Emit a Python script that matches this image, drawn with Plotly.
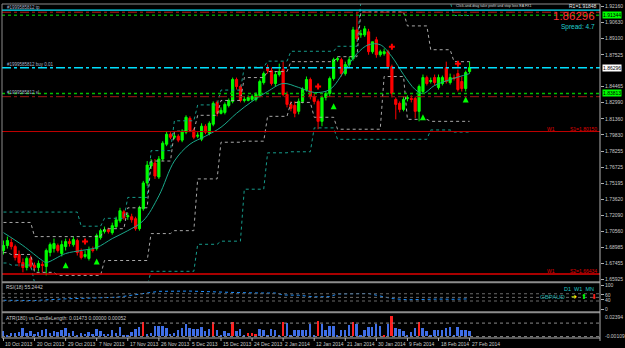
import plotly.graph_objects as go

# ---------------- data ----------------
date_labels = ["10 Oct 2013", "20 Oct 2013", "29 Oct 2013", "7 Nov 2013", "17 Nov 2013",
               "26 Nov 2013", "5 Dec 2013", "15 Dec 2013", "24 Dec 2013", "2 Jan 2014",
               "12 Jan 2014", "21 Jan 2014", "30 Jan 2014", "9 Feb 2014", "18 Feb 2014",
               "27 Feb 2014"]
date_label_bars = [0, 8, 16, 24, 32, 40, 48, 56, 64, 72, 80, 88, 96, 104, 112, 120]

opens = [1.6870,1.6918,1.6947,1.6908,1.6832,1.6755,1.6707,1.6794,1.6727,1.6707,
1.6736,1.6717,1.6851,1.6889,1.6918,1.6841,1.6908,1.6956,1.6927,1.6966,
1.6860,1.6813,1.6794,1.6880,1.6889,1.6994,1.7052,1.7071,1.7042,1.7100,
1.7157,1.7243,1.7195,1.7195,1.7176,1.7080,1.7272,1.7520,1.7683,1.7712,
1.7578,1.7750,1.7893,1.7989,1.7960,1.7970,1.7932,1.8008,1.8142,1.8027,
1.7970,1.7941,1.8066,1.7999,1.8085,1.8295,1.8190,1.8199,1.8266,1.8305,
1.8515,1.8448,1.8314,1.8314,1.8324,1.8324,1.8362,1.8486,1.8630,1.8601,
1.8477,1.8563,1.8611,1.8372,1.8276,1.8266,1.8209,1.8305,1.8419,1.8515,
1.8352,1.8305,1.8113,1.8343,1.8381,1.8525,1.8706,1.8706,1.8572,1.8659,
1.8716,1.8993,1.8945,1.8945,1.8974,1.8783,1.8898,1.8754,1.8764,1.8783,
1.8639,1.8324,1.8286,1.8228,1.8333,1.8333,1.8333,1.8209,1.8400,1.8534,
1.8496,1.8534,1.8439,1.8477,1.8630,1.8486,1.8534,1.8572,1.8496,1.8429,
1.8592]
highs = [1.6966,1.7004,1.6985,1.6927,1.6870,1.6794,1.6813,1.6822,1.6755,1.6774,
1.6765,1.6889,1.6947,1.6985,1.6937,1.6966,1.6985,1.6985,1.7004,1.6985,
1.6889,1.6870,1.6908,1.6908,1.7033,1.7080,1.7100,1.7090,1.7138,1.7195,
1.7281,1.7262,1.7233,1.7224,1.7195,1.7300,1.7540,1.7731,1.7750,1.7750,
1.7779,1.7922,1.8018,1.8008,1.7999,1.7989,1.8037,1.8171,1.8161,1.8046,
1.8008,1.8094,1.8085,1.8113,1.8305,1.8314,1.8247,1.8295,1.8333,1.8534,
1.8534,1.8467,1.8352,1.8362,1.8372,1.8391,1.8515,1.8592,1.8659,1.8630,
1.8592,1.8668,1.8687,1.8400,1.8305,1.8305,1.8333,1.8439,1.8544,1.8534,
1.8381,1.8324,1.8362,1.8400,1.8544,1.8725,1.8735,1.8725,1.8687,1.8735,
1.9022,1.9165,1.8993,1.9031,1.9003,1.8878,1.8926,1.8802,1.8812,1.8802,
1.8659,1.8343,1.8305,1.8352,1.8362,1.8362,1.8352,1.8467,1.8563,1.8553,
1.8534,1.8563,1.8563,1.8553,1.8687,1.8572,1.8563,1.8611,1.8544,1.8601,
1.8687]
lows = [1.6832,1.6889,1.6880,1.6774,1.6717,1.6660,1.6679,1.6698,1.6679,1.6669,
1.6660,1.6631,1.6813,1.6851,1.6851,1.6813,1.6870,1.6908,1.6908,1.6822,
1.6784,1.6794,1.6774,1.6851,1.6870,1.6975,1.7033,1.7033,1.7023,1.7080,
1.7138,1.7166,1.7166,1.7138,1.7061,1.7061,1.7253,1.7492,1.7654,1.7559,
1.7559,1.7731,1.7874,1.7941,1.7941,1.7912,1.7912,1.7989,1.8008,1.7941,
1.7951,1.7922,1.7989,1.7979,1.8066,1.8161,1.8180,1.8180,1.8247,1.8286,
1.8419,1.8295,1.8295,1.8305,1.8305,1.8305,1.8343,1.8467,1.8572,1.8458,
1.8448,1.8544,1.8352,1.8247,1.8209,1.8152,1.8180,1.8286,1.8400,1.8324,
1.8276,1.8037,1.8066,1.8314,1.8352,1.8505,1.8687,1.8544,1.8553,1.8630,
1.8697,1.8878,1.8917,1.8926,1.8754,1.8764,1.8725,1.8735,1.8745,1.8611,
1.8343,1.8132,1.8199,1.8209,1.8305,1.8295,1.8142,1.8113,1.8381,1.8458,
1.8477,1.8458,1.8419,1.8458,1.8477,1.8467,1.8505,1.8400,1.8400,1.8400,
1.8572]
closes = [1.6918,1.6966,1.6908,1.6803,1.6755,1.6707,1.6794,1.6717,1.6707,1.6746,
1.6727,1.6870,1.6927,1.6937,1.6870,1.6927,1.6956,1.6937,1.6975,1.6851,
1.6803,1.6832,1.6880,1.6870,1.7014,1.7061,1.7071,1.7052,1.7109,1.7166,
1.7253,1.7186,1.7205,1.7166,1.7080,1.7281,1.7520,1.7692,1.7721,1.7587,
1.7750,1.7903,1.7989,1.7960,1.7970,1.7932,1.8018,1.8152,1.8027,1.7960,
1.7979,1.8066,1.8008,1.8094,1.8286,1.8190,1.8219,1.8276,1.8314,1.8515,
1.8448,1.8314,1.8324,1.8343,1.8352,1.8372,1.8496,1.8572,1.8601,1.8477,
1.8563,1.8592,1.8372,1.8276,1.8238,1.8190,1.8305,1.8419,1.8515,1.8352,
1.8305,1.8113,1.8343,1.8381,1.8525,1.8706,1.8716,1.8572,1.8659,1.8706,
1.8993,1.8907,1.8955,1.9003,1.8783,1.8878,1.8754,1.8783,1.8783,1.8639,
1.8381,1.8276,1.8228,1.8324,1.8340,1.8324,1.8209,1.8448,1.8534,1.8477,
1.8505,1.8486,1.8534,1.8534,1.8496,1.8534,1.8525,1.8419,1.8429,1.8582,
1.8630]

ma_bars = [0, 5, 10, 11, 16, 20, 24, 28, 32, 36, 40, 44, 48, 52, 56, 60, 64, 68, 72,
           76, 80, 84, 88, 91, 94, 97, 100, 103, 106, 108, 111, 115, 120]
ma_vals = [1.7042, 1.6918, 1.6774, 1.6755, 1.6841, 1.6870, 1.6899, 1.6985, 1.7061,
           1.7157, 1.7396, 1.7731, 1.7893, 1.7970, 1.8056, 1.8190, 1.8305, 1.8400,
           1.8477, 1.8439, 1.8391, 1.8419, 1.8611, 1.8764, 1.8850, 1.8850, 1.8735,
           1.8563, 1.8419, 1.8381, 1.8458, 1.8515, 1.8572]

# weekly channel levels (one value per trading week, weeks start on the Sunday bar)
week_start_bars = [0, 2, 8, 14, 20, 26, 32, 38, 44, 50, 56, 62, 68, 74, 80, 86, 92, 98,
                   104, 110, 116]
upper_inner = [1.7140, 1.7140, 1.7004, 1.7004, 1.7004, 1.7080, 1.7281, 1.7731, 1.8018,
               1.8171, 1.8314, 1.8534, 1.8592, 1.8687, 1.8687, 1.8735, 1.9165, 1.9165,
               1.9031, 1.8802, 1.8687]
lower_inner = [1.6850, 1.6832, 1.6660, 1.6631, 1.6631, 1.6774, 1.6774, 1.7033, 1.7061,
               1.7559, 1.7912, 1.7922, 1.8161, 1.8295, 1.8152, 1.8037, 1.8037, 1.8544,
               1.8132, 1.8113, 1.8113]
upper_outer = [1.7240, 1.7240, 1.7240, 1.7240, 1.7104, 1.7180, 1.7381, 1.7831, 1.8118,
               1.8271, 1.8414, 1.8634, 1.8692, 1.8787, 1.8787, 1.8835, 1.9265, 1.9265,
               1.9265, 1.9265, 1.9131]
lower_outer = [1.6750, 1.6730, 1.6560, 1.6530, 1.6530, 1.6530, 1.6530, 1.6670, 1.6670,
               1.6930, 1.6960, 1.7460, 1.7810, 1.7820, 1.8050, 1.7940, 1.7940, 1.7940,
               1.7940, 1.8030, 1.8010]

buy_arrow_bars = [16, 24, 85, 108, 119]
buy_arrow_prices = [1.6758, 1.6794, 1.8286, 1.8180, 1.8352]
sell_mark_bars = [21, 81, 100, 117]
sell_mark_prices = [1.6956, 1.8448, 1.8831, 1.8668]

price_ticks = [1.92160, 1.90630, 1.89100, 1.87525, 1.84465, 1.82990, 1.81360, 1.79830,
               1.78255, 1.76725, 1.75195, 1.73620, 1.72090, 1.70560, 1.68985, 1.67455,
               1.65925]

tp_price, r_line_top, g_line_top = 1.9183, 1.9163, 1.91344
buy_price, sl_price, r_line_low = 1.8628, 1.83813, 1.8350
s1_price, s2_price = 1.80150, 1.66434

rsi_bars = [0, 8, 16, 20, 24, 28, 30, 34, 36, 40, 48, 52, 56, 60, 66, 70, 72, 76, 80,
            84, 86, 90, 94, 96, 100, 104, 108, 112, 116, 120]
rsi_vals = [38, 37, 44, 45, 46, 50, 52, 62, 67, 75, 76, 75, 72, 70, 68, 68, 60, 59, 52,
            53, 64, 66, 66, 59, 45, 40, 42, 43, 42, 44]
rsi_levels = [65, 50, 35]

atr_vals = [0.0059,0.0014,0.0042,0.0042,0.0050,0.0094,0.0042,0.0059,0.0024,0.0049,
0.0076,0.0083,0.0042,0.0059,0.0049,0.0076,0.0094,0.0042,0.0059,0.0014,
0.0035,0.0030,0.0049,0.0024,0.0087,0.0059,0.0024,0.0024,0.0076,0.0042,
0.0104,0.0014,0.0014,0.0049,0.0083,0.0104,0.0163,0.0024,0.0035,0.0111,
0.0118,0.0111,0.0094,0.0024,0.0042,0.0076,0.0094,0.0139,0.0094,0.0083,
0.0083,0.0104,0.0059,0.0083,0.0163,0.0076,0.0014,0.0059,0.0042,0.0163,
0.0059,0.0087,0.0014,0.0035,0.0035,0.0024,0.0087,0.0076,0.0014,0.0087,
0.0076,0.0014,0.0163,0.0146,0.0014,0.0076,0.0069,0.0076,0.0069,0.0139,
0.0014,0.0170,0.0139,0.0076,0.0118,0.0118,0.0014,0.0066,0.0076,0.0128,
0.0163,0.0139,0.0014,0.0069,0.0104,0.0104,0.0139,0.0118,0.0014,0.0139,
0.0225,0.0094,0.0087,0.0059,0.0014,0.0049,0.0094,0.0163,0.0094,0.0059,
0.0014,0.0066,0.0066,0.0066,0.0094,0.0104,0.0014,0.0104,0.0066,0.0066,
0.0059]
atr_red_bars = [36, 54, 59, 63, 64, 65, 72, 81, 90, 98, 100, 107]
atr_level = 0.01473

# ---------------- geometry helpers (layout only) ----------------
W, H = 625, 348
LM, RM, TM, BM = 2, 21, 2, 10
PW, PH = W - LM - RM, H - TM - BM


def pxx(xp):
    return (xp - LM) / PW


def pxy(yp):
    return (H - BM - yp) / PH


bars = list(range(len(closes)))
px_per_bar = 3.91
x0 = -1.5 / px_per_bar
x1 = x0 + PW / px_per_bar

GRAY = "#c8c8c8"
FONT = "Liberation Sans"


def per_bar(levels):
    out = []
    for i in bars:
        k = max(j for j, s in enumerate(week_start_bars) if s <= i)
        out.append(levels[k])
    return out


fig = go.Figure()

for lv, col in ((upper_outer, "#169c8c"), (lower_outer, "#169c8c"),
                (upper_inner, "#a8a8a8"), (lower_inner, "#a8a8a8")):
    fig.add_trace(go.Scatter(x=bars, y=per_bar(lv), mode="lines",
                             line=dict(color=col, width=1, dash="dot"),
                             hoverinfo="skip", showlegend=False))

fig.add_trace(go.Scatter(x=ma_bars, y=ma_vals, mode="lines",
                         line=dict(color="#1aa88a", width=1, shape="spline"),
                         hoverinfo="skip", showlegend=False))

fig.add_trace(go.Candlestick(
    x=bars, open=opens, high=highs, low=lows, close=closes,
    increasing=dict(line=dict(color="#00ff00", width=1), fillcolor="#00ff00"),
    decreasing=dict(line=dict(color="#ff0000", width=1), fillcolor="#ff0000"),
    whiskerwidth=0, showlegend=False))

fig.add_trace(go.Scatter(x=buy_arrow_bars, y=buy_arrow_prices, mode="markers",
                         marker=dict(symbol="arrow-up", size=6, color="#00ff00"),
                         showlegend=False, hoverinfo="skip"))
fig.add_trace(go.Scatter(x=sell_mark_bars, y=sell_mark_prices, mode="markers",
                         marker=dict(symbol="cross", size=5, color="#ff0000"),
                         showlegend=False, hoverinfo="skip"))

# RSI
fig.add_trace(go.Scatter(x=rsi_bars, y=rsi_vals, mode="lines", yaxis="y2",
                         line=dict(color="#1e90ff", width=1, dash="dot"),
                         showlegend=False, hoverinfo="skip"))

# ATR histogram
atr_colors = ["#ff2020" if i in atr_red_bars else "#3f6fe8" for i in bars]
fig.add_trace(go.Bar(x=bars, y=atr_vals, yaxis="y3", width=0.5,
                     marker=dict(color=atr_colors, line=dict(width=0)),
                     showlegend=False, hoverinfo="skip"))

shapes = []


def hline(y, color, dash="solid", width=1, yref="y"):
    shapes.append(dict(type="line", xref="paper", x0=0, x1=1, yref=yref, y0=y, y1=y,
                       line=dict(color=color, width=width, dash=dash)))


hline(tp_price, "#00e8ff", "solid", 1.2)
hline(r_line_top, "#c01818", "dashdot", 1)
hline(g_line_top, "#009a00", "dot", 1.5)
hline(buy_price, "#00e0ff", "dashdot", 1.5)
hline(sl_price, "#00c000", "dot", 1.5)
hline(r_line_low, "#a01818", "dashdot", 1)
hline(s1_price, "#c00000", "solid", 1)
hline(s2_price, "#e00000", "solid", 1.5)

for lv in rsi_levels:
    hline(lv, "#6a6a6a", "dot", 1, "y2")
hline(atr_level, "#8a8a8a", "dot", 1, "y3")
hline(0, "#8a8a8a", "dot", 1, "y3")

# frames and separators
for yp in (282, 312):
    shapes.append(dict(type="line", xref="paper", x0=0, x1=1, yref="paper",
                       y0=pxy(yp), y1=pxy(yp), line=dict(color="#8c8c8c", width=2)))
shapes.append(dict(type="line", xref="paper", x0=0, x1=1, yref="paper", y0=1, y1=1,
                   line=dict(color="#8c8c8c", width=1)))
shapes.append(dict(type="line", xref="paper", x0=0, x1=0, yref="paper", y0=0, y1=1,
                   line=dict(color="#8c8c8c", width=1)))
shapes.append(dict(type="line", xref="paper", x0=1, x1=1, yref="paper", y0=pxy(341), y1=1,
                   line=dict(color="#b0b0b0", width=1)))
shapes.append(dict(type="line", xref="paper", x0=0, x1=1, yref="paper", y0=0, y1=0,
                   line=dict(color="#b0b0b0", width=1)))
for b in date_label_bars:
    shapes.append(dict(type="line", xref="x", x0=b, x1=b, yref="paper", y0=0, y1=pxy(341),
                       line=dict(color="#b0b0b0", width=1)))

ann = []


def text(x, y, s, color=GRAY, size=5, xanchor="left", yanchor="middle", bg=None,
         xref="paper", yref="paper"):
    d = dict(x=x, y=y, xref=xref, yref=yref, text=s, showarrow=False,
             font=dict(family=FONT, size=size, color=color),
             xanchor=xanchor, yanchor=yanchor)
    if bg:
        d.update(bgcolor=bg, borderpad=0)
    ann.append(d)


for b, lab in zip(date_label_bars, date_labels):
    text(b, pxy(344), lab, xref="x", xanchor="left")

text(pxx(5), pxy(5.5), "#1999585812 tp", color="#a8b4c8", size=4.5)
text(pxx(5), pxy(62.5), "#1999585812 buy 0.01", color="#a8b4c8", size=4.5)
text(pxx(5), pxy(91.5), "#1999585812 sl", color="#a8b4c8", size=4.5)
text(pxx(457), pxy(4.5), "Click-and-drag take profit and stop loss EA FX1",
     color="#d8d8d8", size=3.6)
text(pxx(603), pxy(4.5), "R1=1.91848", color="#e8e8e8", size=5, xanchor="right")
text(pxx(601), pxy(14), "1.86296", color="#ff3030", size=11.5, xanchor="right")
text(pxx(601), pxy(25), "Spread: 4.7", color="#20d0d0", size=6.5, xanchor="right")
text(pxx(549), pxy(128), "W1", color="#e00000")
text(pxx(603), pxy(128), "S1=1.80150", color="#e00000", xanchor="right")
text(pxx(549), pxy(271), "W1", color="#e00000")
text(pxx(603), pxy(271), "S2=1.66434", color="#e00000", xanchor="right")

# axis value boxes
text(pxx(606), pxy(66), "1.86296", color="#000000", bg="#ffffff")
text(pxx(606), pxy(13), "1.91344", color="#000000", bg="#00ff00")
text(pxx(606), pxy(92), "1.83813", color="#000000", bg="#00ff00")

# indicator labels
text(pxx(4), pxy(287), "RSI(18) 55.2442")
text(pxx(600), pxy(288.5), "D1  W1  MN", color="#20c8c8", size=5.5, xanchor="right")
text(pxx(572), pxy(296.5), "GBPAUD", color="#20a8a8", size=6, xanchor="right")
text(pxx(578), pxy(296.5), "\u2794", color="#ffff00", size=7, xanchor="center")
text(pxx(588), pxy(296.5), "\u2b06", color="#00ff00", size=7, xanchor="center")
text(pxx(598), pxy(296.5), "\u2b07", color="#ff2020", size=7, xanchor="center")
text(pxx(4), pxy(317.5), "ATR(180) vs CandleLength: 0.01473 0.00000 0.00052")
text(pxx(607), pxy(317), "0.02394")
text(pxx(607), pxy(336), "-0.00109")

main_lo = 1.9261 - 0.0009564 * 281
main_hi = 1.9261 - 0.0009564 * 2

fig.update_layout(
    width=W, height=H,
    margin=dict(l=LM, r=RM, t=TM, b=BM),
    paper_bgcolor="#000000", plot_bgcolor="#000000",
    showlegend=False, bargap=0, boxgap=0.2,
    shapes=shapes, annotations=ann,
    xaxis=dict(range=[x0, x1], showgrid=False, zeroline=False, showticklabels=False,
               rangeslider=dict(visible=False), anchor="y3", fixedrange=True),
    yaxis=dict(domain=[pxy(281), 1], range=[main_lo, main_hi], side="right",
               showgrid=False, zeroline=False, tickvals=price_ticks,
               ticktext=[f"{t:.5f}" for t in price_ticks],
               ticks="outside", ticklen=3, tickcolor="#b0b0b0",
               tickfont=dict(family=FONT, size=5, color=GRAY)),
    yaxis2=dict(domain=[pxy(311), pxy(284)], range=[-7, 104], side="right", anchor="x",
                showgrid=False, zeroline=False, tickvals=[0, 40, 60, 100],
                ticks="outside", ticklen=3, tickcolor="#b0b0b0",
                tickfont=dict(family=FONT, size=5, color=GRAY)),
    yaxis3=dict(domain=[0, pxy(314)], range=[-0.0015, 0.0245], side="right", anchor="x",
                showgrid=False, zeroline=False, showticklabels=False),
)

fig.write_html("out.html")
